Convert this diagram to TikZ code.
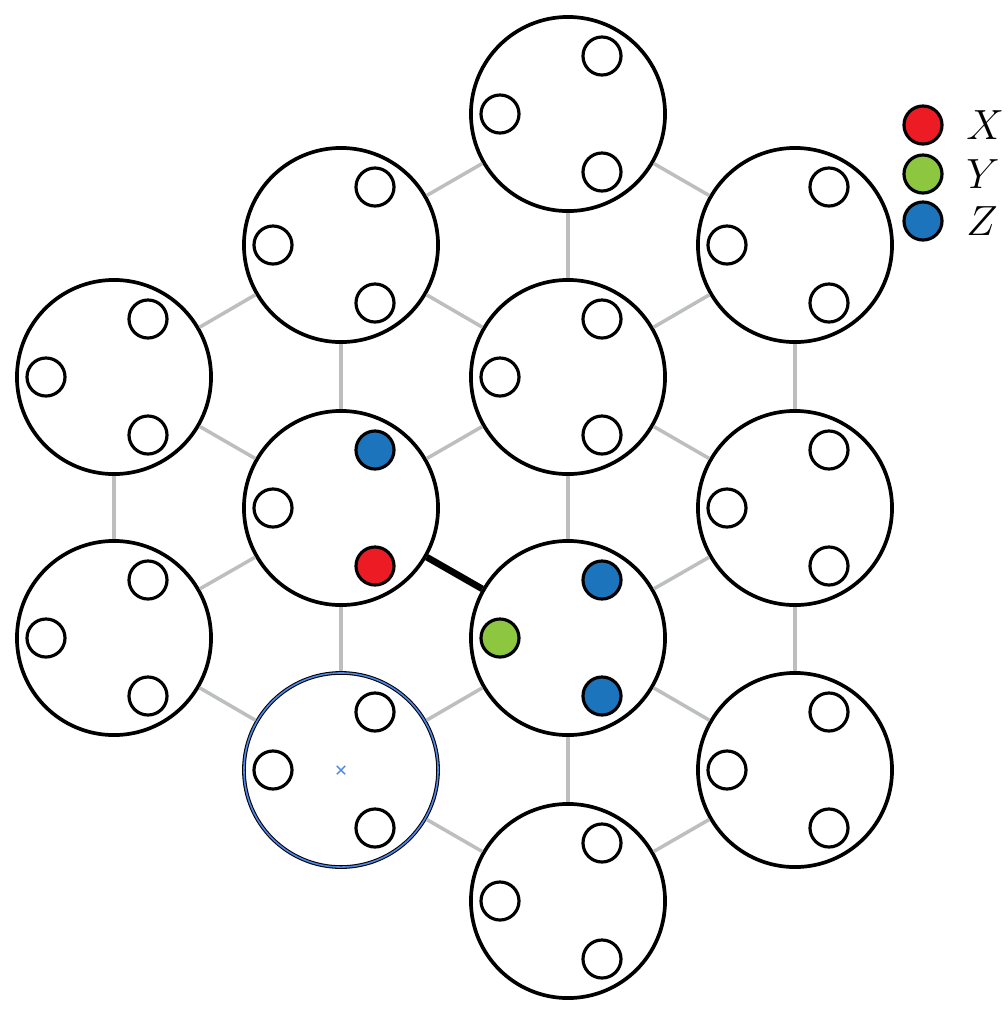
\documentclass[tikz,border=0pt]{standalone}
\usepackage{tikz}
\usetikzlibrary{positioning, shapes.misc}
\definecolor{xred}{RGB}{237,28,36}
\definecolor{ygreen}{RGB}{141,198,63}
\definecolor{zblue}{RGB}{28,117,188}
\definecolor{bondgray}{RGB}{188,190,192}
\definecolor{pickblue}{RGB}{80,135,235}
\tikzstyle{site} = [circle, draw=black, line width=1.05pt, fill=white, minimum size=1.94cm, inner sep=0pt]
\tikzstyle{spot} = [circle, draw=black, line width=0.9pt, fill=white, minimum size=0.38cm, inner sep=0pt]
\tikzstyle{bond} = [draw=bondgray, line width=1pt]
\tikzstyle{strong} = [draw=black, line width=1.9pt]
\tikzstyle{pick} = [circle, draw=pickblue, line width=0.45pt, minimum size=1.94cm, inner sep=0pt]
\tikzstyle{pickcross} = [cross out, draw=pickblue, line width=0.4pt, minimum size=0.07cm, inner sep=0pt]
\tikzstyle{keytext} = [inner sep=0pt, font=\large]

% a site with its three spots (upper right, left, lower right)
\newcommand{\cell}[5]{%
  \node (#1) [site] at (#2) {};
  \node (#1-a) [spot, fill=#3] at ([shift={(34,-58)}]#1.center) {};
  \node (#1-b) [spot, fill=#4] at ([shift={(-68,0)}]#1.center) {};
  \node (#1-c) [spot, fill=#5] at ([shift={(34,58)}]#1.center) {};
}

\begin{document}
\begin{tikzpicture}[x=0.01cm, y=-0.01cm]
    \useasboundingbox (0,0) rectangle (1008,1014);

    % Sites
    \cell{sA}{568,114}{white}{white}{white}
    \cell{sB}{341,245}{white}{white}{white}
    \cell{sC}{795,245}{white}{white}{white}
    \cell{sD}{114,377}{white}{white}{white}
    \cell{sE}{568,377}{white}{white}{white}
    \cell{sF}{341,508}{zblue}{white}{xred}
    \cell{sG}{795,508}{white}{white}{white}
    \cell{sH}{114,638}{white}{white}{white}
    \cell{sI}{568,638}{zblue}{ygreen}{zblue}
    \cell{sJ}{341,770}{white}{white}{white}
    \cell{sK}{795,770}{white}{white}{white}
    \cell{sL}{568,901}{white}{white}{white}

    % selection
    \node (sel) [pick] at (sJ) {};
    \node (selmark) [pickcross] at (sJ) {};

    % Bonds
    \draw [bond] (sA) -- (sB);
    \draw [bond] (sA) -- (sC);
    \draw [bond] (sA) -- (sE);
    \draw [bond] (sB) -- (sD);
    \draw [bond] (sB) -- (sE);
    \draw [bond] (sB) -- (sF);
    \draw [bond] (sC) -- (sE);
    \draw [bond] (sC) -- (sG);
    \draw [bond] (sD) -- (sF);
    \draw [bond] (sD) -- (sH);
    \draw [bond] (sE) -- (sF);
    \draw [bond] (sE) -- (sG);
    \draw [bond] (sE) -- (sI);
    \draw [bond] (sF) -- (sH);
    \draw [bond] (sF) -- (sJ);
    \draw [bond] (sG) -- (sI);
    \draw [bond] (sG) -- (sK);
    \draw [bond] (sH) -- (sJ);
    \draw [bond] (sI) -- (sJ);
    \draw [bond] (sI) -- (sK);
    \draw [bond] (sI) -- (sL);
    \draw [bond] (sJ) -- (sL);
    \draw [bond] (sK) -- (sL);
    \draw [strong] (sF) -- (sI);

    % Legend
    \node (keyX) [spot, fill=xred] at (923,125) {};
    \node (keyY) [spot, fill=ygreen] at (923,174) {};
    \node (keyZ) [spot, fill=zblue] at (923,221) {};
    \node (labX) [keytext, right=0.22cm of keyX] {$X$};
    \node (labY) [keytext, right=0.22cm of keyY] {$Y$};
    \node (labZ) [keytext, right=0.22cm of keyZ] {$Z$};

\end{tikzpicture}
\end{document}
